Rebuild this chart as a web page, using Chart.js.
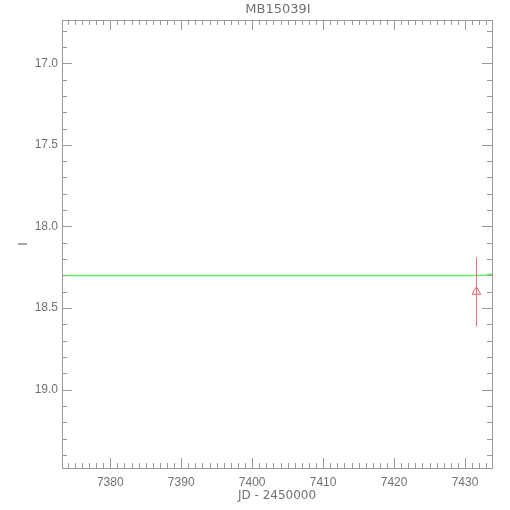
<!DOCTYPE html>
<html>
<head>
<meta charset="utf-8">
<script src="https://cdn.jsdelivr.net/npm/chart.js@4/dist/chart.umd.min.js"></script>
<style>
  html, body { margin: 0; padding: 0; background: #fff; }
  #wrap { width: 510px; height: 510px; }
</style>
</head>
<body>
<div id="wrap"><canvas id="lc" width="510" height="510"></canvas></div>
<script>
// observed point (I band) with error
const obsJD = [7431.6];
const obsMag = [18.40];
const obsErr = [0.21];

// model curve
const modelJD = [7373.2, 7390, 7410, 7425, 7430, 7432, 7433, 7433.8];
const modelMag = [18.30, 18.30, 18.30, 18.30, 18.30, 18.30, 18.298, 18.292];

const xTicks = [7380, 7390, 7400, 7410, 7420, 7430];
const yTicks = [17.0, 17.5, 18.0, 18.5, 19.0];

const axisGrey = '#9a9a9a';
const textGrey = '#707070';
const tickFont = { family: 'Liberation Sans', size: 12 };
const labelFont = { family: 'DejaVu Sans', size: 12 };

// IDL style box with inward ticks on all four sides, plus error bars
const frame = {
    id: 'frame',
    afterDatasetsDraw(chart) {
        const { ctx, chartArea: a, scales } = chart;
        const xs = scales.x, ys = scales.y;
        ctx.save();

        // error bars
        ctx.strokeStyle = '#ff7070';
        ctx.lineWidth = 1;
        obsJD.forEach((jd, i) => {
            const px = Math.round(xs.getPixelForValue(jd)) + 0.5;
            ctx.beginPath();
            ctx.moveTo(px, ys.getPixelForValue(obsMag[i] - obsErr[i]));
            ctx.lineTo(px, ys.getPixelForValue(obsMag[i] + obsErr[i]));
            ctx.stroke();
        });

        ctx.strokeStyle = axisGrey;
        ctx.lineWidth = 1;
        ctx.strokeRect(a.left + 0.5, a.top + 0.5, a.right - a.left, a.bottom - a.top);

        ctx.beginPath();
        for (let v = Math.ceil(xs.min); v <= xs.max; v += 1) {
            const px = Math.round(xs.getPixelForValue(v)) + 0.5;
            const len = (v % 10 === 0) ? 10 : 5;
            ctx.moveTo(px, a.bottom); ctx.lineTo(px, a.bottom - len);
            ctx.moveTo(px, a.top); ctx.lineTo(px, a.top + len);
        }
        for (let k = Math.ceil(ys.min * 10); k <= ys.max * 10; k++) {
            const py = Math.round(ys.getPixelForValue(k / 10)) + 0.5;
            const len = (k % 5 === 0) ? 10 : 5;
            ctx.moveTo(a.left, py); ctx.lineTo(a.left + len, py);
            ctx.moveTo(a.right, py); ctx.lineTo(a.right - len, py);
        }
        ctx.stroke();

        // title
        ctx.fillStyle = textGrey;
        ctx.font = '13px "DejaVu Sans"';
        ctx.textAlign = 'center';
        ctx.textBaseline = 'middle';
        ctx.fillText('MB15039I', (a.left + a.right) / 2 + 1, 10);
        ctx.restore();
    }
};

new Chart(document.getElementById('lc').getContext('2d'), {
    type: 'scatter',
    data: {
        datasets: [{
            label: 'model',
            type: 'line',
            data: modelJD.map((x, i) => ({ x: x, y: modelMag[i] })),
            borderColor: '#66ee66',
            borderWidth: 1.5,
            pointRadius: 0,
            tension: 0
        }, {
            label: 'I',
            data: obsJD.map((x, i) => ({ x: x, y: obsMag[i] })),
            pointStyle: 'triangle',
            pointRadius: 5,
            backgroundColor: 'rgba(0,0,0,0)',
            borderColor: '#ff6060',
            borderWidth: 1
        }]
    },
    options: {
        responsive: false,
        animation: false,
        layout: { padding: { top: 20, right: 18, bottom: 0, left: 0 } },
        plugins: { legend: { display: false }, tooltip: { enabled: false } },
        scales: {
            x: {
                type: 'linear',
                min: 7373.2,
                max: 7433.8,
                afterBuildTicks: s => { s.ticks = xTicks.map(v => ({ value: v })); },
                afterFit: s => { s.height = 42; },
                grid: { display: false, drawTicks: false },
                border: { display: false },
                ticks: { color: textGrey, font: tickFont, padding: 7, maxRotation: 0,
                         callback: v => String(v) },
                title: { display: true, text: 'JD - 2450000', color: textGrey, font: labelFont,
                         padding: { top: 0, bottom: 7 } }
            },
            y: {
                type: 'linear',
                reverse: true,
                min: 16.735,
                max: 19.48,
                afterBuildTicks: s => { s.ticks = yTicks.map(v => ({ value: v })); },
                afterFit: s => { s.width = 62; },
                grid: { display: false, drawTicks: false },
                border: { display: false },
                ticks: { color: textGrey, font: tickFont, padding: 4,
                         callback: v => v.toFixed(1) },
                title: { display: true, text: 'I', color: textGrey, font: labelFont,
                         padding: { top: 17, bottom: 0 } }
            }
        }
    },
    plugins: [frame]
});
</script>
</body>
</html>
